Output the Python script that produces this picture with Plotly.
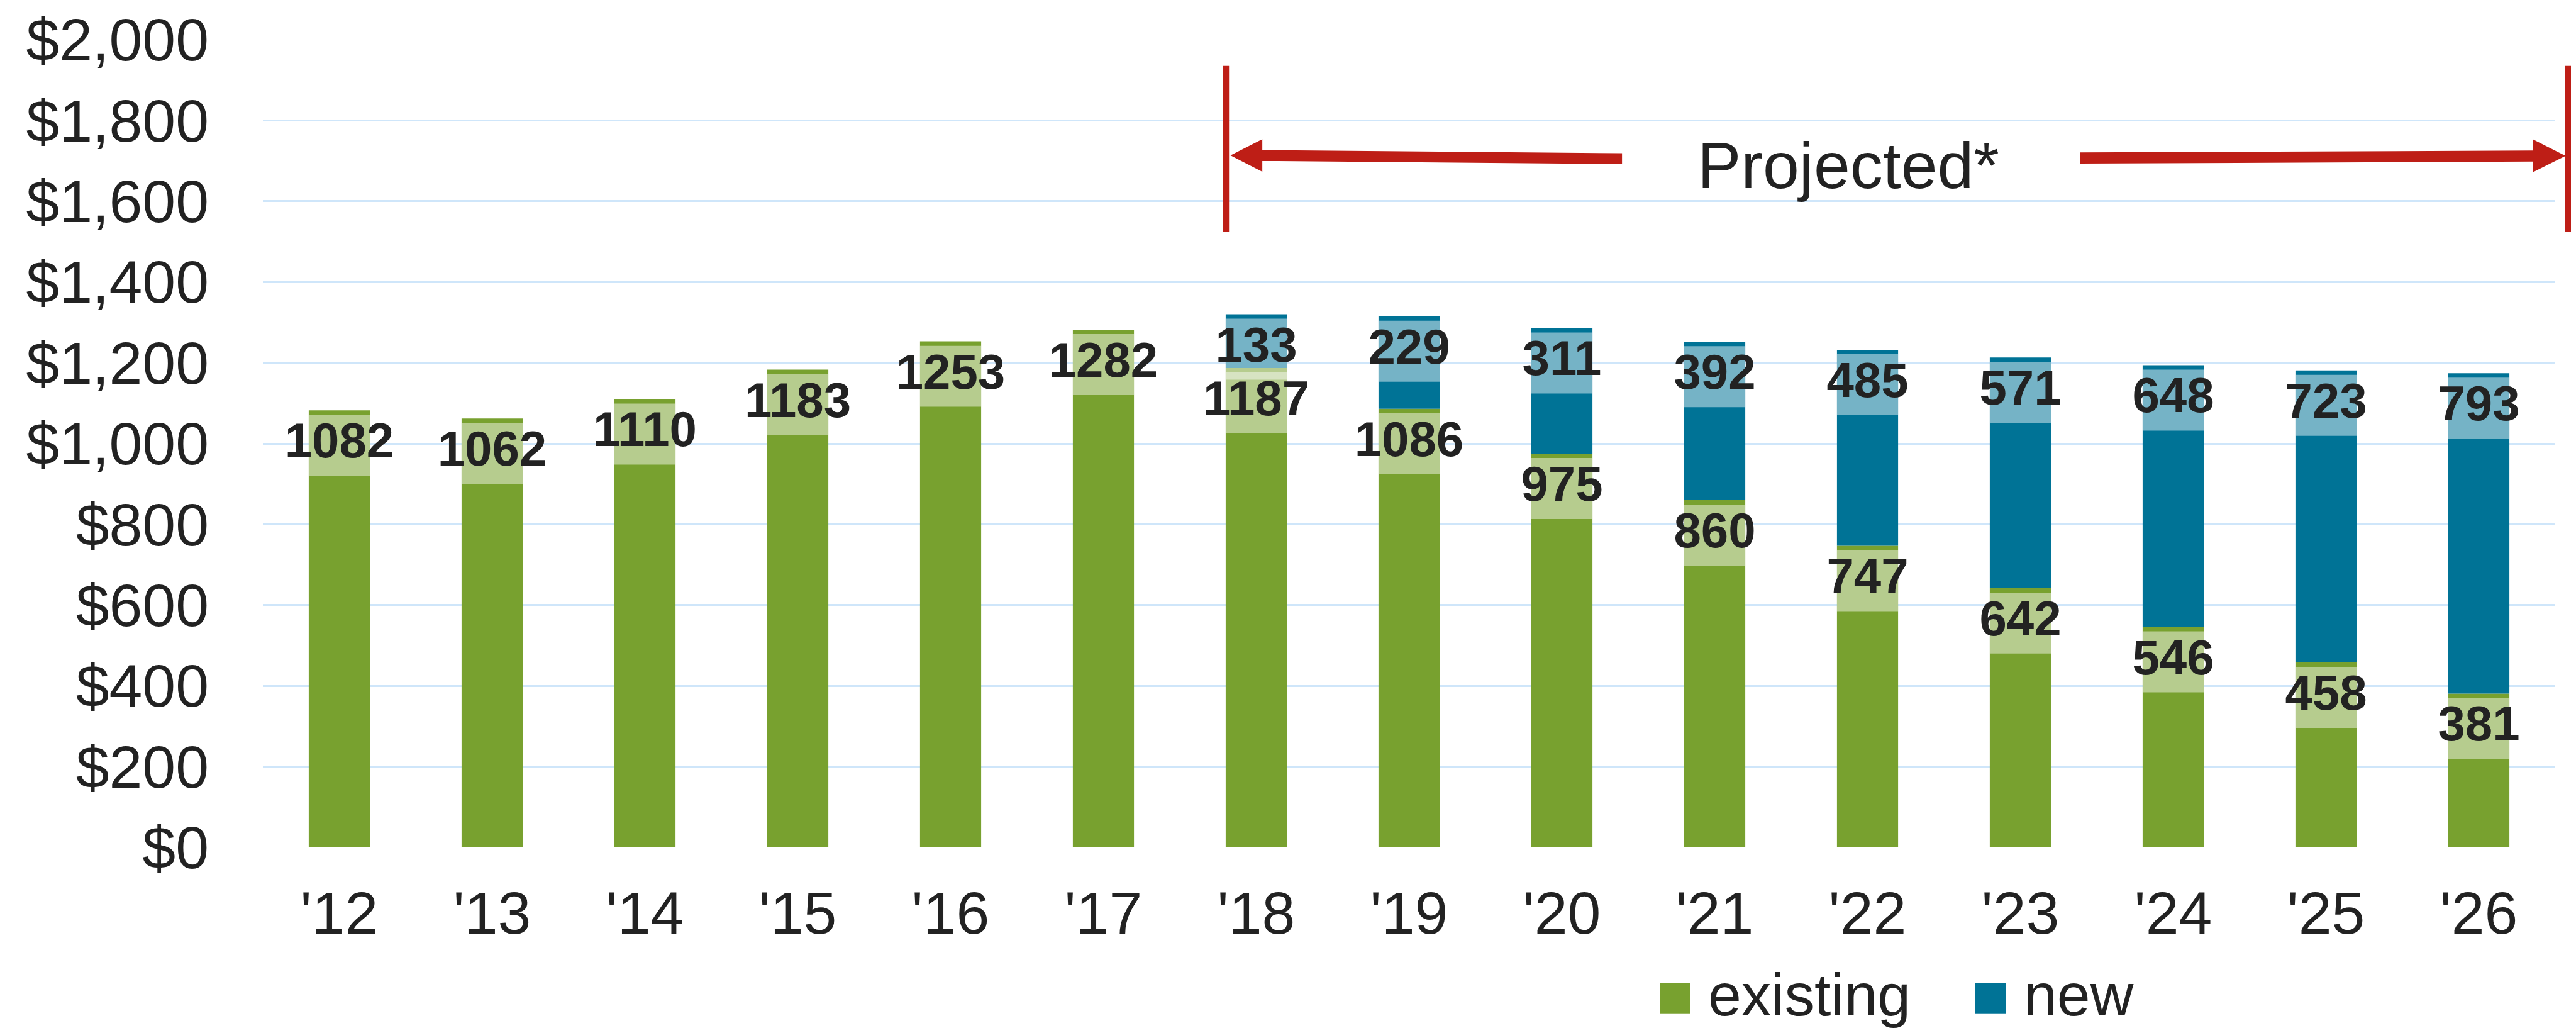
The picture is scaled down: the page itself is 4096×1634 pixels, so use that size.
import plotly.graph_objects as go

# ---------------- data ----------------
years = ["'12", "'13", "'14", "'15", "'16", "'17", "'18", "'19", "'20",
         "'21", "'22", "'23", "'24", "'25", "'26"]
existing = [1082, 1062, 1110, 1183, 1253, 1282, 1187, 1086, 975, 860, 747, 642, 546, 458, 381]
new = [0, 0, 0, 0, 0, 0, 133, 229, 311, 392, 485, 571, 648, 723, 793]
y_ticks = [0, 200, 400, 600, 800, 1000, 1200, 1400, 1600, 1800, 2000]
series_names = ["existing", "new"]
annotation_text = "Projected*"

# ---------------- style ----------------
S = 0.905
W, H = 4096, 1634
ML, MR, MT, MB = 410, 41, 55, 295
L, R = ML, W - MR
T, B = MT, H - MB

GREEN = "#78A12F"
BLUE = "#007396"
RED = "#BE1E16"
TXT = "#222222"
GRID = "#CFE6FA"
BOX = "rgba(255,255,255,0.46)"
FONT = "Liberation Sans, Arial, sans-serif"
BAR_W = 0.4
STRIP = 11      # data units of dark strip above label box
BOXH = 151      # data units of label box


def fx(xf):
    return (xf * S - L) / (R - L)


def fy(yf):
    return (B - yf * S) / (B - T)


fig = go.Figure()

# main stacked bars (explicit bases, overlay mode)
fig.add_trace(go.Bar(x=years, y=existing, base=[0] * len(years), name=series_names[0],
                     marker=dict(color=GREEN, line=dict(width=0)), width=BAR_W,
                     showlegend=False, hoverinfo="skip"))
nx = [yr for yr, n in zip(years, new) if n > 0]
ny = [n for n in new if n > 0]
nb = [e for e, n in zip(existing, new) if n > 0]
fig.add_trace(go.Bar(x=nx, y=ny, base=nb, name=series_names[1],
                     marker=dict(color=BLUE, line=dict(width=0)), width=BAR_W,
                     showlegend=False, hoverinfo="skip"))

# label boxes
fig.add_trace(go.Bar(x=years, y=[BOXH] * len(years),
                     base=[e - STRIP - BOXH for e in existing],
                     marker=dict(color=BOX, line=dict(width=0)), width=BAR_W,
                     showlegend=False, hoverinfo="skip"))
ntop = [e + n for e, n in zip(existing, new) if n > 0]
fig.add_trace(go.Bar(x=nx, y=[BOXH] * len(nx),
                     base=[t - STRIP - BOXH for t in ntop],
                     marker=dict(color=BOX, line=dict(width=0)), width=BAR_W,
                     showlegend=False, hoverinfo="skip"))

# data labels
LBL_FONT = dict(family=FONT, size=78, color=TXT, weight="bold")
fig.add_trace(go.Scatter(x=years, y=[e - STRIP - BOXH / 2 for e in existing],
                         text=[str(e) for e in existing], mode="text",
                         textposition="middle center", textfont=LBL_FONT,
                         showlegend=False, hoverinfo="skip", cliponaxis=False))
fig.add_trace(go.Scatter(x=nx, y=[t - STRIP - BOXH / 2 for t in ntop],
                         text=[str(n) for n in ny], mode="text",
                         textposition="middle center", textfont=LBL_FONT,
                         showlegend=False, hoverinfo="skip", cliponaxis=False))

shapes = []
# vertical red lines
for xf in (2145, 4503):
    shapes.append(dict(type="line", xref="paper", yref="paper",
                       x0=fx(xf), x1=fx(xf), y0=fy(107), y1=fy(398),
                       line=dict(color=RED, width=10)))


def poly(pts):
    return "M " + " L ".join(f"{fx(a):.5f},{fy(b):.5f}" for a, b in pts) + " Z"


left_arrow = [(2153, 264.2), (2209, 235.6), (2209, 254.6), (2841, 260.2),
              (2841, 279.5), (2209, 273.9), (2209, 292.8)]
right_arrow = [(3646, 258.9), (4442, 255.6), (4442, 236.3), (4499, 265),
               (4442, 293.5), (4442, 274.9), (3646, 278.5)]
for pts in (left_arrow, right_arrow):
    shapes.append(dict(type="path", xref="paper", yref="paper", path=poly(pts),
                       fillcolor=RED, line=dict(width=0)))

# custom legend squares
LEG_Y0, LEG_Y1 = 1717, 1771
shapes.append(dict(type="rect", xref="paper", yref="paper",
                   x0=fx(2908), x1=fx(2961), y0=fy(LEG_Y0), y1=fy(LEG_Y1),
                   fillcolor=GREEN, line=dict(width=0)))
shapes.append(dict(type="rect", xref="paper", yref="paper",
                   x0=fx(3461), x1=fx(3515), y0=fy(LEG_Y0), y1=fy(LEG_Y1),
                   fillcolor=BLUE, line=dict(width=0)))

annotations = [
    dict(text=annotation_text, xref="paper", yref="paper", x=fx(3239), y=fy(282),
         xanchor="center", yanchor="middle", showarrow=False,
         font=dict(family=FONT, size=104, color=TXT)),
    dict(text=series_names[0], xref="paper", yref="paper", x=fx(2990), y=fy(1738),
         xanchor="left", yanchor="middle", showarrow=False,
         font=dict(family=FONT, size=95, color=TXT)),
    dict(text=series_names[1], xref="paper", yref="paper", x=fx(3545), y=fy(1738),
         xanchor="left", yanchor="middle", showarrow=False,
         font=dict(family=FONT, size=95, color=TXT)),
]

fig.update_layout(
    width=W, height=H,
    margin=dict(l=ML, r=MR, t=MT, b=MB, pad=0, autoexpand=False),
    paper_bgcolor="white", plot_bgcolor="white",
    barmode="overlay", bargap=0.6,
    font=dict(family=FONT, color=TXT),
    shapes=shapes, annotations=annotations,
    showlegend=False,
)
fig.update_xaxes(type="category", categoryorder="array", categoryarray=years,
                 range=[-0.5, len(years) - 0.5], automargin=False,
                 showgrid=False, showline=False, zeroline=False, ticks="",
                 tickfont=dict(family=FONT, size=95, color=TXT),
                 ticklabelstandoff=41)
fig.update_yaxes(range=[0, 2000], tickvals=y_ticks, automargin=False,
                 ticktext=[f"${v:,}" for v in y_ticks],
                 showgrid=True, gridcolor=GRID, gridwidth=2.5,
                 zeroline=False, showline=False, ticks="",
                 tickfont=dict(family=FONT, size=95, color=TXT),
                 ticklabelstandoff=85)

fig.write_html("out.html")
